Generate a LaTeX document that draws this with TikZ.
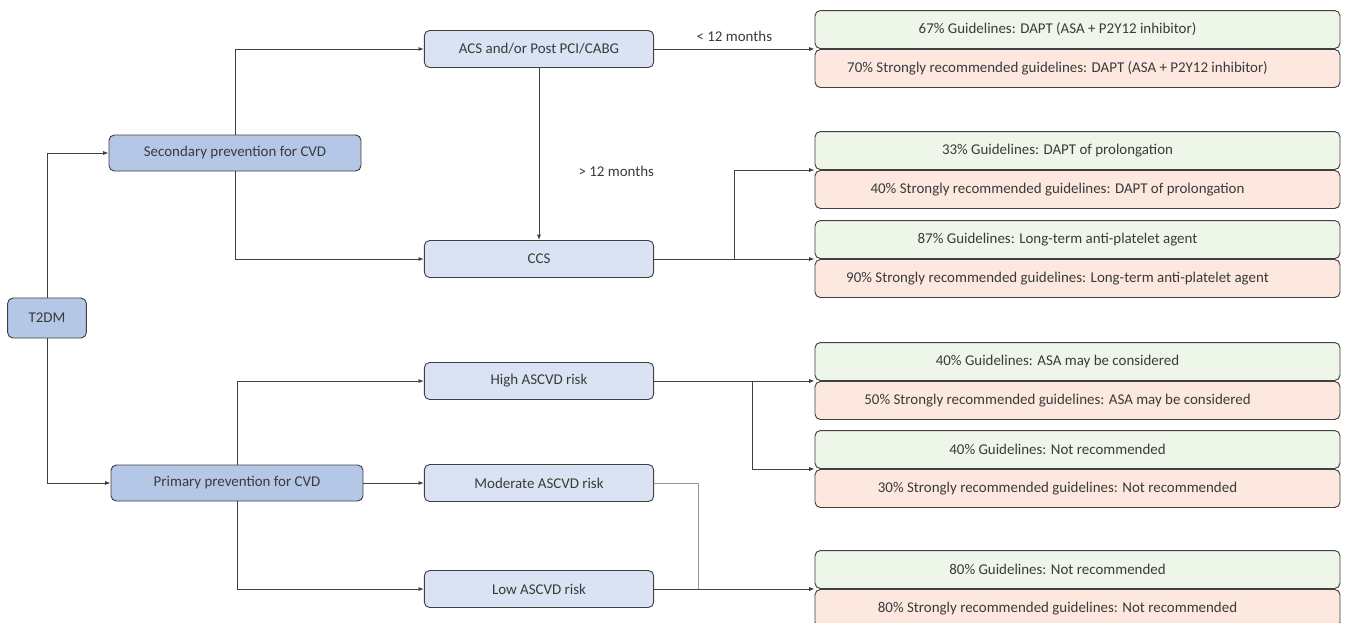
\documentclass[tikz,border=0pt]{standalone}
\usepackage{fontspec}
\setmainfont{Carlito}
\usetikzlibrary{arrows.meta}

\definecolor{darkfill}{HTML}{B4C7E7}
\definecolor{lightfill}{HTML}{DAE3F3}
\definecolor{greenfill}{HTML}{EDF6E9}
\definecolor{redfill}{HTML}{FCE8DE}
\definecolor{edge}{HTML}{404040}
\definecolor{ink}{HTML}{3A3A3A}

\tikzset{
  base/.style={draw=edge, line width=0.7pt, rounded corners=4pt, text=ink,
    font=\fontsize{11.2}{13}\selectfont, inner sep=0pt},
  mainbox/.style={base, fill=darkfill, minimum width=189pt, minimum height=27pt},
  subbox/.style={base, fill=lightfill, minimum width=172pt, minimum height=27.75pt},
  guidebox/.style={base, fill=greenfill, minimum width=393.75pt, minimum height=28.5pt},
  strongrow/.style={base, fill=redfill, minimum width=393.75pt, minimum height=28.5pt},
  tag/.style={text=ink, font=\fontsize{11.2}{13}\selectfont},
  link/.style={draw=edge, line width=0.6pt, -{Latex[length=4pt,width=3pt]}},
  weak/.style={draw=edge!55, line width=0.5pt},
}

\begin{document}
\begin{tikzpicture}[x=0.75pt,y=-0.75pt]

  \useasboundingbox (0,0) rectangle (1349,622);
  \clip (0,0) rectangle (1349,622);

  \def\resx{1077.5}

  % left column
  \node[mainbox, minimum width=59pt, minimum height=30pt] (t2dm) at (47,318) {T2DM};
  \node[mainbox] (sec) at (235,153) {Secondary prevention for CVD};
  \node[mainbox] (prim) at (237,483) {Primary prevention for CVD};

  % middle column
  \node[subbox] (acs) at (539,49) {ACS and/or Post PCI/CABG};
  \node[subbox] (ccs) at (539,259) {CCS};
  \node[subbox] (high) at (539,381) {High ASCVD risk};
  \node[subbox] (mod) at (539,483) {Moderate ASCVD risk};
  \node[subbox] (low) at (539,589) {Low ASCVD risk};

  % guideline pairs
  \foreach \y/\name/\pa/\pb/\what in {
      49/dapt/67/70/{DAPT (ASA + P2Y12 inhibitor)},
      170/prol/33/40/{DAPT of prolongation},
      259/long/87/90/{Long-term anti-platelet agent},
      381/asa/40/50/{ASA may be considered},
      469/notrec/40/30/{Not recommended},
      589/lownot/80/80/{Not recommended}} {
    \node[guidebox, anchor=south] (\name-g) at (\resx,\y) {\pa\% Guidelines: \what\hspace*{30pt}};
    \node[strongrow, anchor=north] (\name-s) at (\resx,\y) {\pb\% Strongly recommended guidelines: \what\hspace*{30pt}};
  }

  % forks
  \coordinate (ccsfork) at (734,259);
  \coordinate (highfork) at (752,381);
  \coordinate (modfork) at (698,589);

  % connectors
  \draw[link] (t2dm.north) |- (sec.west);
  \draw[link] (t2dm.south) |- (prim.west);
  \draw[link] (sec.north) |- (acs.west);
  \draw[link] (sec.south) |- (ccs.west);
  \draw[link] (prim.north) |- (high.west);
  \draw[link] (prim.east) -- (mod.west);
  \draw[link] (prim.south) |- (low.west);

  \draw[link] (acs.east) -- node[above=2pt, tag] {< 12 months} (dapt-g.south west);
  \draw[link] (acs.south) -- node[pos=0.6, right=26pt, tag] {> 12 months} (ccs.north);

  \draw[link] (ccs.east) -- (long-g.south west);
  \draw[link] (ccsfork) |- (prol-g.south west);
  \draw[link] (high.east) -- (asa-g.south west);
  \draw[link] (highfork) |- (notrec-g.south west);
  \draw[weak] (mod.east) -| (modfork);
  \draw[link] (low.east) -- (lownot-g.south west);
\end{tikzpicture}
\end{document}
